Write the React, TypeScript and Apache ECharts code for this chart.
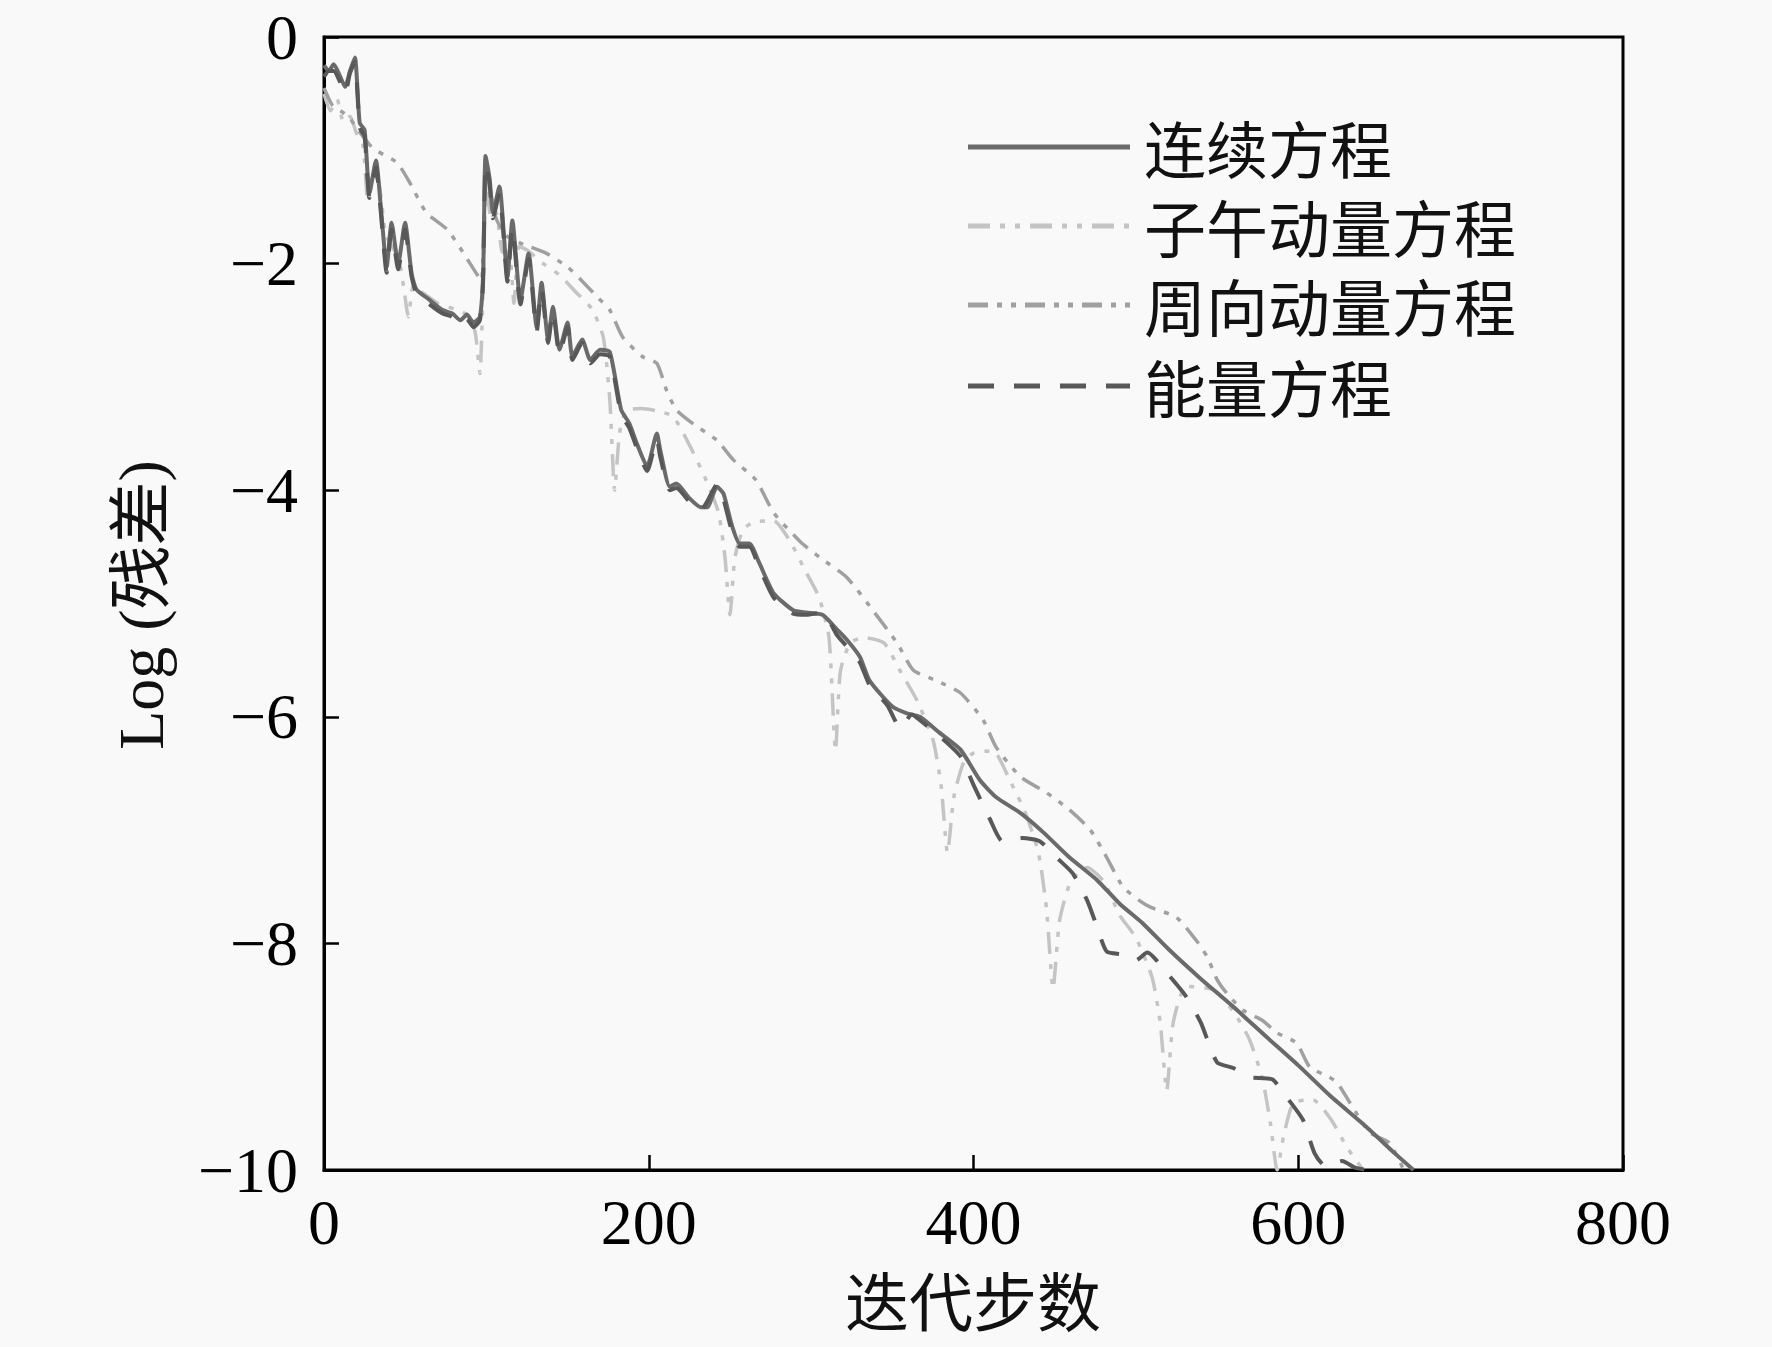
import React, { useEffect, useRef } from "react";
import * as echarts from "echarts";

// ---------- data ----------
const xTicks = [0, 200, 400, 600, 800];
const yTicks = [0, -2, -4, -6, -8, -10];
const seriesNames = ["连续方程", "子午动量方程", "周向动量方程", "能量方程"];
const xAxisName = "迭代步数";
const yAxisName = "Log (残差)";

const continuity: number[][] = [
  [0, -0.25], [3, -0.3], [6, -0.24], [10, -0.35], [13, -0.44], [16, -0.3], [19, -0.18],
  [22, -0.76], [25, -0.82], [28, -1.38], [32, -1.09], [35, -1.5], [38.6, -2.03], [41.6, -1.64],
  [45.7, -2.0], [49.9, -1.64], [54, -2.09], [57, -2.23], [65, -2.32], [73, -2.41], [79, -2.44],
  [84, -2.5], [88, -2.45], [92, -2.52], [96, -2.47], [98, -2.1], [99.5, -1.05], [102, -1.25],
  [104, -1.55], [108, -1.32], [113, -2.12], [116, -1.62], [121, -2.32], [126, -1.91], [131, -2.56],
  [134, -2.17], [138, -2.67], [141, -2.38], [145, -2.76], [150, -2.52], [153, -2.82], [159, -2.67],
  [164, -2.85], [170, -2.76], [176, -2.78], [183, -3.29], [188, -3.41], [193, -3.6], [199, -3.79],
  [205, -3.5], [207, -3.64], [213, -3.97], [217, -3.94], [225, -4.07], [232, -4.15], [236, -4.15],
  [242, -3.97], [246, -4.03], [251, -4.3], [256, -4.47], [262, -4.47], [268, -4.64], [277, -4.91],
  [289, -5.06], [297, -5.08], [307, -5.1], [316, -5.23], [322, -5.32], [330, -5.47], [336, -5.68],
  [350, -5.91], [359, -5.97], [367, -6.0], [379, -6.14], [392, -6.29], [404, -6.56], [414, -6.71],
  [429, -6.85], [443, -7.02], [459, -7.24], [476, -7.44], [490, -7.65], [504, -7.82], [520, -8.05],
  [539, -8.3], [560, -8.56], [580, -8.82], [601, -9.09], [620, -9.35], [642, -9.62], [660, -9.86],
  [671, -10],
];

const meridional: number[][] = [
  [0, -0.5], [4, -0.65], [8, -0.55], [12, -0.75], [16, -0.7], [20, -0.85], [24, -0.95], [27, -1.45],
  [30, -1.2], [34, -1.3], [38, -1.75], [42, -1.85], [46, -1.95], [49, -2.2], [52, -2.47], [55, -2.2],
  [60, -2.25], [70, -2.35], [80, -2.4], [88, -2.45], [93, -2.6], [96, -2.97], [98, -2.2], [100, -1.3],
  [103, -1.6], [106, -1.55], [110, -1.9], [114, -1.9], [117, -2.35], [120, -1.85], [125, -1.88],
  [135, -2.0], [145, -2.1], [155, -2.25], [165, -2.4], [172, -2.65], [176, -3.2], [179, -4.0],
  [182, -3.5], [186, -3.3], [195, -3.28], [205, -3.3], [215, -3.35], [225, -3.6], [235, -3.9],
  [243, -4.2], [247, -4.6], [250, -5.1], [253, -4.6], [258, -4.35], [265, -4.28], [277, -4.27],
  [287, -4.45], [296, -4.7], [305, -4.95], [311, -5.3], [315, -6.3], [318, -5.6], [324, -5.35],
  [332, -5.3], [345, -5.35], [355, -5.6], [365, -5.85], [375, -6.2], [380, -6.6], [384, -7.2],
  [388, -6.7], [394, -6.4], [400, -6.32], [412, -6.3], [422, -6.55], [432, -6.85], [440, -7.2],
  [445, -7.7], [449, -8.4], [453, -7.8], [460, -7.45], [470, -7.33], [480, -7.45], [490, -7.75],
  [500, -7.95], [510, -8.3], [515, -8.7], [519, -9.3], [523, -8.7], [531, -8.38], [548, -8.41],
  [560, -8.6], [570, -8.85], [578, -9.2], [583, -9.6], [587, -10], [591, -9.7], [597, -9.41],
  [609, -9.38], [620, -9.55], [630, -9.8], [640, -10],
];

const circumferential: number[][] = [
  [0, -0.45], [5, -0.6], [10, -0.65], [15, -0.7], [20, -0.8], [28, -0.95], [32, -1.0], [45, -1.11],
  [53, -1.29], [63, -1.55], [76, -1.7], [86, -1.91], [94, -2.09], [97, -2.15], [100, -1.2],
  [106, -1.6], [112, -1.75], [121, -1.82], [137, -1.91], [150, -2.03], [158, -2.14], [168, -2.29],
  [176, -2.41], [184, -2.65], [196, -2.82], [205, -2.88], [211, -3.12], [217, -3.29], [227, -3.41],
  [242, -3.56], [252, -3.73], [266, -3.91], [277, -4.2], [293, -4.45], [305, -4.59], [322, -4.77],
  [338, -5.06], [353, -5.35], [363, -5.59], [377, -5.68], [392, -5.79], [406, -6.03], [414, -6.27],
  [429, -6.53], [445, -6.67], [459, -6.82], [472, -7.0], [482, -7.24], [492, -7.5], [502, -7.62],
  [509, -7.68], [525, -7.77], [537, -7.97], [544, -8.12], [550, -8.32], [556, -8.44], [566, -8.59],
  [578, -8.68], [587, -8.79], [599, -8.88], [607, -9.09], [619, -9.18], [624, -9.23], [632, -9.41],
  [644, -9.67], [656, -9.76], [665, -10],
];

const energy: number[][] = [
  [0, -0.35], [3, -0.3], [6, -0.3], [10, -0.4], [13, -0.5], [16, -0.32], [19, -0.22], [22, -0.8],
  [25, -0.88], [28, -1.42], [32, -1.15], [35, -1.55], [38.6, -2.08], [41.6, -1.7], [45.7, -2.05],
  [49.9, -1.7], [54, -2.12], [57, -2.26], [65, -2.36], [73, -2.44], [79, -2.47], [84, -2.53],
  [88, -2.49], [92, -2.56], [96, -2.5], [98, -2.15], [99.5, -1.12], [102, -1.3], [104, -1.6],
  [108, -1.38], [113, -2.16], [116, -1.68], [121, -2.36], [126, -1.96], [131, -2.6], [134, -2.22],
  [138, -2.7], [141, -2.42], [145, -2.8], [150, -2.56], [153, -2.85], [159, -2.7], [164, -2.88],
  [170, -2.8], [176, -2.82], [183, -3.33], [188, -3.45], [193, -3.64], [199, -3.83], [205, -3.55],
  [207, -3.7], [213, -4.0], [217, -3.98], [225, -4.1], [232, -4.18], [236, -4.1], [242, -3.95],
  [246, -4.08], [251, -4.35], [256, -4.5], [262, -4.5], [268, -4.68], [277, -4.95], [289, -5.09],
  [297, -5.1], [307, -5.08], [316, -5.28], [322, -5.38], [330, -5.52], [336, -5.72], [347, -5.9],
  [355, -6.1], [362, -5.98], [367, -6.03], [379, -6.17], [392, -6.35], [400, -6.6], [410, -6.9],
  [418, -7.1], [430, -7.07], [441, -7.1], [451, -7.24], [461, -7.38], [470, -7.62], [476, -7.85],
  [482, -8.07], [492, -8.1], [500, -8.15], [507, -8.08], [519, -8.26], [531, -8.47], [540, -8.7],
  [550, -9.05], [560, -9.1], [570, -9.18], [584, -9.2], [593, -9.36], [603, -9.56], [610, -9.85],
  [617, -9.97], [627, -9.92], [635, -9.98], [642, -10],
];

// ---------- styles ----------
const SERIF = "'Liberation Serif', 'Times New Roman', 'Noto Sans CJK SC', serif";
const CJK = "'Noto Sans CJK SC', sans-serif";
const seriesStyles = [
  { color: "#6a6a6a", width: 4, type: "solid" as any, z: 5 },
  { color: "#c4c4c4", width: 3.5, type: [22, 10, 5, 10, 5, 10], z: 3 },
  { color: "#a0a0a0", width: 3.5, type: [20, 9, 5, 9, 5, 9], z: 4 },
  { color: "#585858", width: 4, type: [26, 20], z: 6 },
];
const seriesData = [continuity, meridional, circumferential, energy];
const legendRowsY = [147, 226, 305, 386];

const fmtY = (v: number) => (v < 0 ? "\u2212" + Math.abs(v) : String(v));

export default function App() {
  const ref = useRef<HTMLDivElement>(null);
  useEffect(() => {
    document.body.style.margin = "0";
    const chart = echarts.init(ref.current!, null, { renderer: "svg" });

    const legendGraphics: any[] = [];
    seriesNames.forEach((name, i) => {
      const st = seriesStyles[i];
      legendGraphics.push({
        type: "line",
        shape: { x1: 968, y1: legendRowsY[i], x2: 1130, y2: legendRowsY[i] },
        style: {
          stroke: st.color,
          lineWidth: 5,
          lineDash: Array.isArray(st.type) ? st.type : null,
        },
        z: 10,
      });
      legendGraphics.push({
        type: "text",
        x: 1144,
        y: legendRowsY[i],
        style: {
          text: name,
          fontFamily: CJK,
          fontSize: 62,
          lineHeight: 62,
          fill: "#111",
          verticalAlign: "middle",
          align: "left",
        },
        z: 10,
      });
    });

    chart.setOption({
      animation: false,
      backgroundColor: "#f9f9f9",
      grid: {
        left: 324,
        right: 149,
        top: 37,
        bottom: 177,
        show: true,
        borderColor: "#000",
        borderWidth: 3,
        backgroundColor: "transparent",
      },
      xAxis: {
        type: "value",
        min: 0,
        max: 800,
        interval: 200,
        axisLine: { show: true, onZero: false, lineStyle: { color: "#000", width: 3 } },
        axisTick: { show: true, inside: true, length: 15, lineStyle: { color: "#000", width: 2.5 } },
        splitLine: { show: false },
        axisLabel: {
          fontFamily: SERIF,
          fontSize: 64,
          color: "#000",
          margin: 20,
          customValues: xTicks,
        },
      },
      yAxis: {
        type: "value",
        min: -10,
        max: 0,
        interval: 2,
        axisLine: { show: true, onZero: false, lineStyle: { color: "#000", width: 3 } },
        axisTick: { show: true, inside: true, length: 15, lineStyle: { color: "#000", width: 2.5 } },
        splitLine: { show: false },
        axisLabel: {
          fontFamily: SERIF,
          fontSize: 64,
          color: "#000",
          margin: 26,
          formatter: (v: number) => fmtY(v),
          customValues: yTicks,
        },
      },
      graphic: [
        {
          type: "text",
          x: 973,
          y: 1298,
          style: {
            text: xAxisName,
            fontFamily: CJK,
            fontSize: 64,
            lineHeight: 64,
            fill: "#111",
            align: "center",
            verticalAlign: "middle",
          },
        },
        {
          type: "text",
          x: 141,
          y: 605,
          rotation: Math.PI / 2,
          style: {
            text: yAxisName,
            fontFamily: SERIF,
            fontSize: 64,
            fill: "#111",
            align: "center",
            verticalAlign: "middle",
          },
        },
        ...legendGraphics,
      ],
      series: seriesNames.map((name, i) => ({
        name,
        type: "line",
        data: seriesData[i],
        symbol: "none",
        smooth: 0.2,
        clip: true,
        z: seriesStyles[i].z,
        itemStyle: { color: seriesStyles[i].color },
        lineStyle: {
          color: seriesStyles[i].color,
          width: seriesStyles[i].width,
          type: seriesStyles[i].type,
        },
      })),
    });
    return () => chart.dispose();
  }, []);
  return <div ref={ref} style={{ width: 1772, height: 1347 }} />;
}
